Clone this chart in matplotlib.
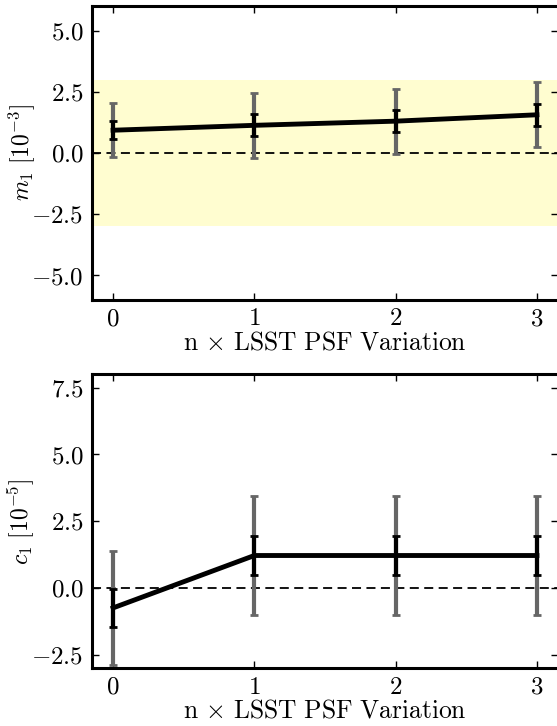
import matplotlib
matplotlib.use("Agg")
import matplotlib.pyplot as plt
from matplotlib.ticker import FuncFormatter

# Data
x = [0, 1, 2, 3]
m1 = [0.93, 1.13, 1.30, 1.56]
m1_err_stat = [0.36, 0.45, 0.45, 0.44]
m1_err_sys = [1.11, 1.33, 1.33, 1.33]
c1 = [-0.74, 1.22, 1.22, 1.22]
c1_err_stat = [0.71, 0.74, 0.74, 0.74]
c1_err_sys = [2.13, 2.24, 2.24, 2.24]
xticks = [0, 1, 2, 3]
m_yticks = [-5.0, -2.5, 0.0, 2.5, 5.0]
c_yticks = [-2.5, 0.0, 2.5, 5.0, 7.5]

plt.rcParams['mathtext.fontset'] = 'cm'
plt.rcParams['font.family'] = ['cmr10', 'DejaVu Serif']
plt.rcParams['axes.unicode_minus'] = False

fig = plt.figure(figsize=(5.57, 7.26), dpi=100)
ax1 = fig.add_axes([0.165, 0.5868, 0.837, 0.4049])
ax2 = fig.add_axes([0.165, 0.0795, 0.837, 0.4049])

fmt = FuncFormatter(lambda v, p: r"$%.1f$" % v)
xfmt = FuncFormatter(lambda v, p: r"$%d$" % v)

FS = 18

def style(ax, yticks, ylim, ylabel):
    for s in ax.spines.values():
        s.set_linewidth(2.2)
    ax.set_xlim(-0.15, 3.15)
    ax.set_ylim(*ylim)
    ax.set_xticks(xticks)
    ax.set_yticks(yticks)
    ax.xaxis.set_major_formatter(xfmt)
    ax.yaxis.set_major_formatter(fmt)
    ax.tick_params(direction='in', top=True, right=True, length=5, width=1,
                   labelsize=FS, pad=6)
    ax.set_xlabel(r"$\mathrm{n}\,\times\,\mathrm{LSST\ PSF\ Variation}$",
                  fontsize=18.4, labelpad=0)
    ax.set_ylabel(ylabel, fontsize=17)
    ax.yaxis.set_label_coords(-0.118, 0.5)
    ax.axhline(0, color='black', ls=(0, (5, 3)), lw=1.3, zorder=2)

# Top panel
ax1.axhspan(-3, 3, color='#fffdd0', zorder=0, lw=0)
ax1.errorbar(x, m1, yerr=m1_err_sys, fmt='none', ecolor='#666666', elinewidth=3,
             capsize=3, capthick=2, zorder=3)
ax1.errorbar(x, m1, yerr=m1_err_stat, fmt='-', color='black', lw=3.5, ecolor='black',
             elinewidth=3, capsize=3, capthick=2, zorder=4)
style(ax1, m_yticks, (-6, 6), r"$m_1\ [10^{-3}]$")

# Bottom panel
ax2.errorbar(x, c1, yerr=c1_err_sys, fmt='none', ecolor='#666666', elinewidth=3,
             capsize=3, capthick=2, zorder=3)
ax2.errorbar(x, c1, yerr=c1_err_stat, fmt='-', color='black', lw=3.5, ecolor='black',
             elinewidth=3, capsize=3, capthick=2, zorder=4)
style(ax2, c_yticks, (-3, 8), r"$c_1\ [10^{-5}]$")

fig.savefig("out.png", dpi=100)
